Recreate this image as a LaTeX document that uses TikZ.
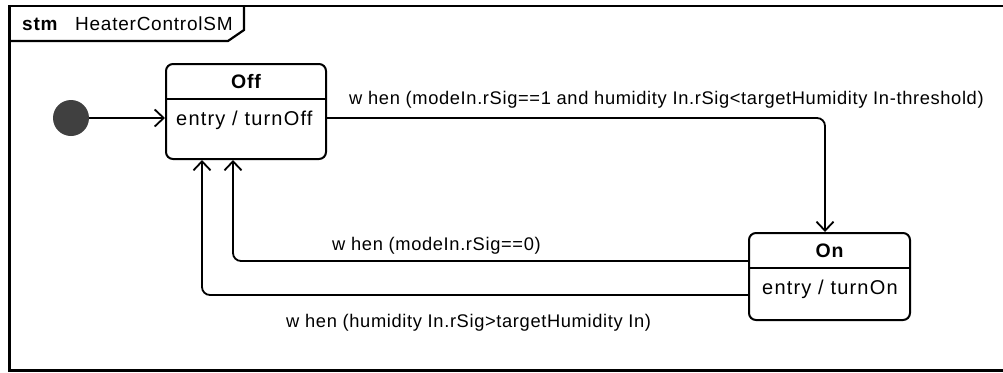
\documentclass[tikz,border=0pt]{standalone}
\usepackage{fontspec}
\setmainfont{Liberation Sans}[LetterSpace=4]
\newfontfamily\transfont{Liberation Sans}[LetterSpace=3.5]
\newfontfamily\statefont{Liberation Sans}[LetterSpace=6]
\usetikzlibrary{arrows.meta,calc}
\tikzset{
  lbl/.style={font=\fontsize{19}{22}\selectfont, inner sep=0pt, anchor=west},
  tlbl/.style={font=\transfont\fontsize{18.3}{22}\selectfont, inner sep=0pt, anchor=west},
  slbl/.style={font=\statefont\fontsize{20}{23}\selectfont, inner sep=0pt, anchor=west},
  namelbl/.style={font=\fontsize{19.5}{22}\selectfont\bfseries, inner sep=0pt, anchor=center},
  statebox/.style={draw, line width=2pt, rounded corners=7pt, minimum width=160pt, inner sep=0pt},
  trans/.style={draw, line width=1.8pt, rounded corners=8pt, -{Straight Barb[length=9pt,width=17pt,line width=1.8pt]}},
  frameline/.style={line width=2.2pt},
}
\begin{document}
\begin{tikzpicture}[x=1pt,y=-1pt]
\useasboundingbox (0,0) rectangle (1003,372);
% frame
\draw[frameline] (1010,6) -- (9.5,6) -- (9.5,370.5) -- (1010,370.5);
\draw[frameline] (9.5,41) -- (228,41) -- (244,30) -- (244,6);
\node[lbl, font=\fontsize{19}{22}\selectfont\bfseries] (kw) at (22,24) {stm};
\node[lbl] (title) at (75,24) {HeaterControlSM};
% initial
\node[circle, fill=black!75, minimum size=36pt, inner sep=0pt] (init) at (71,118) {};
% Off state
\node[statebox, minimum height=95pt] (off) at (246,111.5) {};
\draw[line width=2pt] (off.west |- 0,99) -- (off.east |- 0,99);
\node[namelbl] (offname) at (246,82) {Off};
\node[slbl] (offentry) at (176,120) {entry / turnOff};
% On state
\node[statebox, minimum width=161pt, minimum height=87pt] (on) at (829.5,276.5) {};
\draw[line width=2pt] (on.west |- 0,268) -- (on.east |- 0,268);
\node[namelbl] (onname) at (829.5,251) {On};
\node[slbl] (onentry) at (762,289) {entry / turnOn};
% transitions
\draw[trans] (init) -- (init -| off.west);
\draw[trans] (init -| off.east) -| ([xshift=-4.5pt]on.north);
\node[tlbl] (t1) at (349,100) {w hen (modeIn.rSig==1 and humidity In.rSig<targetHumidity In-threshold)};
\draw[trans] (on.west |- 0,261) -| ([xshift=-13pt]off.south);
\node[tlbl] (t2) at (332,246) {w hen (modeIn.rSig==0)};
\draw[trans] (on.west |- 0,295) -| ([xshift=-44pt]off.south);
\node[tlbl] (t3) at (286,323) {w hen (humidity In.rSig>targetHumidity In)};
\end{tikzpicture}
\end{document}
